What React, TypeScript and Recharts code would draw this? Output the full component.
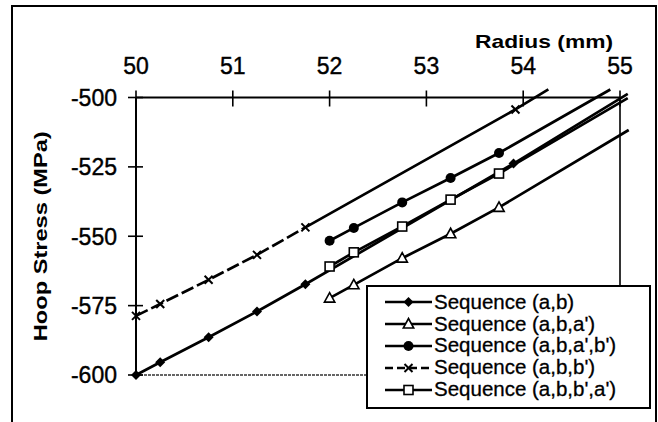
import React from 'react';
import { ComposedChart, Line, Scatter, XAxis, YAxis, Legend, ReferenceLine } from 'recharts';

const xTicks = [50, 51, 52, 53, 54, 55];
const yTicks = [-500, -525, -550, -575, -600];

const seriesNames = [
  'Sequence (a,b)',
  "Sequence (a,b,a')",
  "Sequence (a,b,a',b')",
  "Sequence (a,b,b')",
  "Sequence (a,b,b',a')",
];

// Sequence (a,b)
const abX = [50, 50.25, 50.75, 51.25, 51.75, 53.9];
const abY = [-600, -595.4, -586.4, -577.1, -567.3, -523.8];
const abEnd = [55.08, -498.7];

// Sequence (a,b,a')
const abaX = [52, 52.25, 52.75, 53.25, 53.75];
const abaY = [-572.3, -567.5, -557.9, -549.1, -539.6];
const abaEnd = [55.09, -511.7];

// Sequence (a,b,a',b')
const ababX = [52, 52.25, 52.75, 53.25, 53.75];
const ababY = [-551.6, -547.0, -537.8, -529.0, -520.0];
const ababEnd = [54.9, -497.1];

// Sequence (a,b,b')
const abbX = [50, 50.25, 50.75, 51.25, 51.75, 53.92];
const abbY = [-578.7, -574.4, -565.7, -556.7, -546.8, -504.3];
const abbEnd = [54.26, -497.1];

// Sequence (a,b,b',a')
const abbaX = [52, 52.25, 52.75, 53.25, 53.75];
const abbaY = [-560.9, -555.8, -546.5, -536.8, -527.4];
const abbaEnd = [55.08, -500.2];

const zip = (xs: number[], ys: number[]) => xs.map((x, i) => ({ x, y: ys[i] }));
const withEnd = (xs: number[], ys: number[], end: number[]) => [...zip(xs, ys), { x: end[0], y: end[1] }];

const FONT = '"Liberation Sans", Arial, sans-serif';

type Kind = 'diamond' | 'triangle' | 'circle' | 'cross' | 'square';
const kinds: Kind[] = ['diamond', 'triangle', 'circle', 'cross', 'square'];

function Marker({ kind, cx, cy }: { kind: Kind; cx: number; cy: number }) {
  switch (kind) {
    case 'diamond':
      return <polygon points={`${cx},${cy - 5} ${cx + 5},${cy} ${cx},${cy + 5} ${cx - 5},${cy}`} fill="#000" />;
    case 'triangle':
      return (
        <polygon
          points={`${cx},${cy - 5.5} ${cx + 5.2},${cy + 4} ${cx - 5.2},${cy + 4}`}
          fill="#fff"
          stroke="#000"
          strokeWidth={1.6}
        />
      );
    case 'circle':
      return <circle cx={cx} cy={cy} r={5} fill="#000" />;
    case 'cross':
      return (
        <g stroke="#000" strokeWidth={2}>
          <line x1={cx - 4} y1={cy - 4} x2={cx + 4} y2={cy + 4} />
          <line x1={cx - 4} y1={cy + 4} x2={cx + 4} y2={cy - 4} />
        </g>
      );
    case 'square':
      return <rect x={cx - 4.5} y={cy - 4.5} width={9} height={9} fill="#fff" stroke="#000" strokeWidth={1.6} />;
  }
  return null;
}

const XTick = (props: any) => {
  const { x, y, payload } = props;
  return (
    <g>
      <line x1={x} x2={x} y1={y - 7} y2={y + 9} stroke="#000" strokeWidth={1.6} />
      <text x={x} y={y - 23.5} textAnchor="middle" fontSize={23} fontFamily={FONT} fill="#000" stroke="#000" strokeWidth={0.4}>
        {payload.value}
      </text>
    </g>
  );
};

const YTick = (props: any) => {
  const { x, y, payload } = props;
  return (
    <g>
      <line x1={x - 8} x2={x + 7} y1={y} y2={y} stroke="#000" strokeWidth={1.6} />
      <text x={x - 19} y={y} dy="0.36em" textAnchor="end" fontSize={23} fontFamily={FONT} fill="#000" stroke="#000" strokeWidth={0.4}>
        {payload.value}
      </text>
    </g>
  );
};

const XTitle = (props: any) => {
  const vb = props.viewBox || { x: 136, y: 67.5, width: 484, height: 30 };
  return (
    <text
      x={vb.x + vb.width - 76}
      y={vb.y - 19.5}
      textAnchor="middle"
      fontSize={19}
      fontWeight="bold"
      fontFamily={FONT}
      fill="#000"
      textLength={138}
      lengthAdjust="spacingAndGlyphs"
    >
      Radius (mm)
    </text>
  );
};

const YTitle = (props: any) => {
  const vb = props.viewBox || { x: 76, y: 97.5, width: 60, height: 277.5 };
  const cx = vb.x - 29;
  const cy = vb.y + vb.height / 2;
  return (
    <text
      x={cx}
      y={cy}
      transform={`rotate(-90, ${cx}, ${cy})`}
      textAnchor="middle"
      fontSize={19}
      fontWeight="bold"
      fontFamily={FONT}
      fill="#000"
      textLength={210}
      lengthAdjust="spacingAndGlyphs"
    >
      Hoop Stress (MPa)
    </text>
  );
};

const LegendBox = () => (
  <div
    style={{
      width: '100%',
      height: '100%',
      boxSizing: 'border-box',
      border: '2px solid #000',
      background: '#fff',
      paddingTop: 4,
      fontFamily: FONT,
    }}
  >
    {seriesNames.map((name, i) => (
      <div key={name} style={{ display: 'flex', alignItems: 'center', height: 21.9 }}>
        <svg width={47} height={22} style={{ marginLeft: 17, marginRight: 2, flex: 'none' }}>
          <line
            x1={0}
            x2={47}
            y1={11}
            y2={11}
            stroke="#000"
            strokeWidth={2.5}
            strokeDasharray={kinds[i] === 'cross' ? '8 4' : undefined}
          />
          <Marker kind={kinds[i]} cx={23.5} cy={11} />
        </svg>
        <span style={{ fontSize: 20.5, lineHeight: 1, color: '#000', whiteSpace: 'nowrap', WebkitTextStroke: '0.3px #000' }}>{name}</span>
      </div>
    ))}
  </div>
);

export default function App() {
  const lineProps = {
    dataKey: 'y',
    stroke: '#000',
    strokeWidth: 2.7,
    dot: false,
    activeDot: false,
    isAnimationActive: false,
    legendType: 'none' as const,
  };
  const scatterSets: { xs: number[]; ys: number[]; kind: Kind }[] = [
    { xs: abX, ys: abY, kind: 'diamond' },
    { xs: abaX, ys: abaY, kind: 'triangle' },
    { xs: ababX, ys: ababY, kind: 'circle' },
    { xs: abbX, ys: abbY, kind: 'cross' },
    { xs: abbaX, ys: abbaY, kind: 'square' },
  ];
  return (
    <div style={{ position: 'absolute', left: 0, top: 0, width: 658, height: 422, overflow: 'hidden', background: '#fff' }}>
      <style>{`.recharts-line, .recharts-line *, .recharts-scatter, .recharts-scatter *, .recharts-layer { clip-path: none !important; }`}</style>
      <div
        style={{
          position: 'absolute',
          left: 11,
          top: 5,
          width: 646,
          height: 440,
          boxSizing: 'border-box',
          border: '2px solid #000',
        }}
      />
      <div style={{ position: 'absolute', left: 0, top: 0 }}>
        <ComposedChart width={658} height={422} margin={{ top: 67.5, right: 38, bottom: 47, left: 76 }}>
          <XAxis
            xAxisId={0}
            dataKey="x"
            type="number"
            orientation="top"
            domain={[50, 55]}
            ticks={xTicks}
            interval={0}
            allowDataOverflow
            height={30}
            tickSize={0}
            tickMargin={0}
            tickLine={false}
            axisLine={{ stroke: '#000', strokeWidth: 2 }}
            tick={<XTick />}
            label={{ content: <XTitle /> }}
          />
          <YAxis
            yAxisId={0}
            dataKey="y"
            type="number"
            domain={[-600, -500]}
            ticks={yTicks}
            interval={0}
            allowDataOverflow
            width={60}
            tickSize={0}
            tickMargin={0}
            tickLine={false}
            axisLine={{ stroke: '#000', strokeWidth: 2 }}
            tick={<YTick />}
            label={{ content: <YTitle /> }}
          />
          <ReferenceLine x={55} stroke="#000" strokeWidth={1.6} />
          <ReferenceLine y={-600} stroke="#333" strokeWidth={1.6} strokeDasharray="3 1" />

          <Line {...lineProps} data={withEnd(abX, abY, abEnd)} name={seriesNames[0]} />
          <Line {...lineProps} data={withEnd(abaX, abaY, abaEnd)} name={seriesNames[1]} />
          <Line {...lineProps} data={withEnd(ababX, ababY, ababEnd)} name={seriesNames[2]} />
          <Line
            {...lineProps}
            data={zip(abbX.slice(0, 5), abbY.slice(0, 5))}
            strokeDasharray="13 4"
            name={seriesNames[3]}
          />
          <Line
            {...lineProps}
            data={withEnd(abbX.slice(4), abbY.slice(4), abbEnd)}
            name={seriesNames[3] + ' '}
          />
          <Line {...lineProps} data={withEnd(abbaX, abbaY, abbaEnd)} name={seriesNames[4]} />

          {scatterSets.map((s, i) => (
            <Scatter
              key={i}
              data={zip(s.xs, s.ys)}
              isAnimationActive={false}
              legendType="none"
              shape={(p: any) => <Marker kind={s.kind} cx={p.cx} cy={p.cy} />}
            />
          ))}

          <Legend
            layout="vertical"
            align="center"
            verticalAlign="middle"
            content={() => <LegendBox />}
            wrapperStyle={{ position: 'absolute', left: 366, top: 285, width: 285, height: 124 }}
          />
        </ComposedChart>
      </div>
    </div>
  );
}
